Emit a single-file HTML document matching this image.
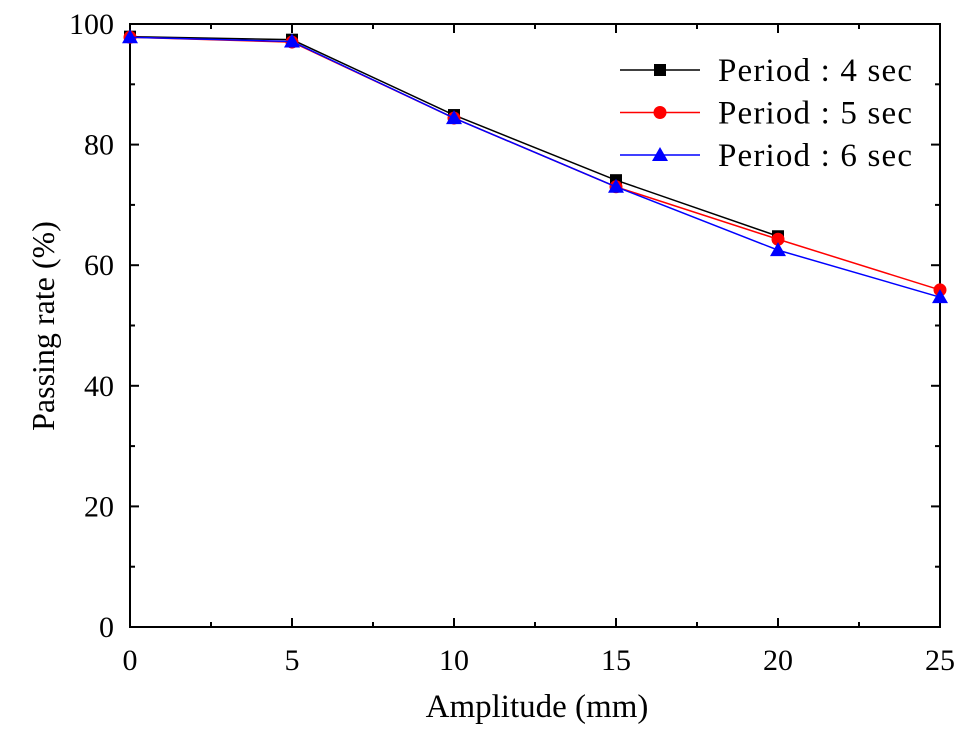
<!DOCTYPE html>
<html><head><meta charset="utf-8"><style>
body{margin:0;background:#fff}
svg{display:block;font-family:"Liberation Serif",serif}
</style></head><body>
<svg id="chart" width="969" height="736"></svg>
<script>
const categories=[0,5,10,15,20,25];
const series4=[97.9,97.4,84.9,74.1,64.8,null];
const series5=[97.8,97.0,84.4,73.0,64.3,55.9];
const series6=[97.8,97.1,84.4,73.0,62.5,54.7];
const xTicks=[0,5,10,15,20,25];
const yTicks=[0,20,40,60,80,100];
const NS="http://www.w3.org/2000/svg";
const svg=document.getElementById('chart');
const L=130,R=940,T=24,B=627;
const xs=v=>L+(v/25)*(R-L);
const ys=v=>B-(v/100)*(B-T);
function el(tag,attrs,parent){const e=document.createElementNS(NS,tag);for(const k in attrs)e.setAttribute(k,attrs[k]);(parent||svg).appendChild(e);return e;}
const frame=el('rect',{x:L,y:T,width:R-L,height:B-T,fill:'none',stroke:'#000','stroke-width':2});


for(let i=0;i<=10;i++){const v=i*2.5,x=xs(v),len=i%2?5:9;
 el('line',{x1:x,y1:B,x2:x,y2:B-len,stroke:'#000','stroke-width':2});
 el('line',{x1:x,y1:T,x2:x,y2:T+len,stroke:'#000','stroke-width':2});}
for(let i=0;i<=10;i++){const v=i*10,y=ys(v),len=i%2?5:9;
 el('line',{x1:L,y1:y,x2:L+len,y2:y,stroke:'#000','stroke-width':2});
 el('line',{x1:R,y1:y,x2:R-len,y2:y,stroke:'#000','stroke-width':2});}
xTicks.forEach(v=>{const t=el('text',{x:xs(v),y:B+43,'text-anchor':'middle','font-size':30});t.textContent=v;
 
 });
yTicks.forEach(v=>{const t=el('text',{x:L-16,y:ys(v)+10,'text-anchor':'end','font-size':30});t.textContent=v;
 
 });
const xt=el('text',{x:537,y:717,'text-anchor':'middle','font-size':33});xt.textContent='Amplitude (mm)';


const yt=el('text',{x:0,y:0,'text-anchor':'middle','font-size':32,transform:'translate(54,326) rotate(-90)'});yt.textContent='Passing rate (%)';


function marker(type,x,y,color,g){
 if(type==='sq')return el('rect',{x:x-6,y:y-6,width:12,height:12,fill:color},g);
 if(type==='ci')return el('circle',{cx:x,cy:y,r:6.5,fill:color},g);
 return el('path',{d:`M${x},${y-8} L${x+8},${y+6} L${x-8},${y+6} Z`,fill:color},g);}
const defs=[[series4,'#000','sq','Period : 4 sec','series-period-4'],[series5,'#ff0000','ci','Period : 5 sec','series-period-5'],[series6,'#0000ff','tr','Period : 6 sec','series-period-6']];
defs.forEach(([data,color,m,label,name],si)=>{
 const g=el('g',{});
 
 const pts=[];categories.forEach((c,i)=>{if(data[i]!=null)pts.push([xs(c),ys(data[i])]);});
 el('polyline',{points:pts.map(p=>p.join(',')).join(' '),fill:'none',stroke:color,'stroke-width':1.5},g);
 pts.forEach(p=>{const mk=marker(m,p[0],p[1],color,g);});
 const ly=70+si*42.5;
 const lg=el('g',{});
 
 el('line',{x1:620,y1:ly,x2:700,y2:ly,stroke:color,'stroke-width':1.5},lg);
 marker(m,660,ly,color,lg);
 const t=el('text',{x:718,y:ly+11,'font-size':33,textLength:194},lg);t.textContent=label;
});
</script>
</body></html>
